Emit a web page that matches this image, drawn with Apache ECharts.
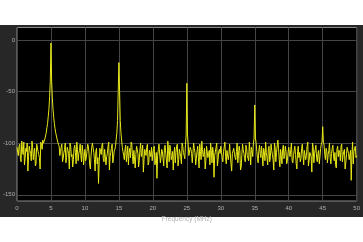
<!DOCTYPE html>
<html><head><meta charset="utf-8">
<script src="https://cdn.jsdelivr.net/npm/echarts@6/dist/echarts.min.js"></script>
<style>html,body{margin:0;padding:0;background:#fff}#c{width:363px;height:242px}</style>
</head><body><div id="c"></div>
<script>
// Frequency grid: 0 to 50 MHz, step 0.2 MHz (power), plus mid points at +0.1 MHz (powerMid)
const freqStart = 0, freqStep = 0.2, midOffset = 0.1;
// Power (dB) at 0.0, 0.2, ... 50.0 MHz
const power = [
-104,-112,-101,-118,-106,-99,-114,-108,-127,-103,-110,-98,-116,-105,-120,-100,-111,-125,-102,-97,-98,-93,-85,-74,-55,
-3,-56,-75,-86,-93,-99,-103,-108,-101,-115,-106,-119,-104,-110,-100,-113,-123,-105,-109,-99,-117,-107,-112,-102,-121,
-106,-114,-101,-110,-125,-104,-99,-116,-108,-120,-139,-105,-111,-100,-118,-107,-113,-103,-126,-109,-101,-115,-106,-96,-78,
-22,-78,-97,-108,-116,-102,-111,-121,-105,-99,-113,-107,-124,-103,-110,-117,-100,-109,-128,-106,-112,-101,-119,-108,-104,
-110,-103,-117,-134,-106,-100,-114,-108,-122,-102,-111,-98,-118,-105,-113,-126,-104,-109,-101,-116,-107,-120,-103,-112,-101,
-42,-101,-112,-106,-119,-100,-109,-115,-103,-124,-108,-98,-113,-105,-117,-102,-110,-121,-107,-104,-133,-111,-100,-116,-106,
-103,-114,-108,-99,-120,-106,-111,-102,-127,-109,-104,-116,-100,-112,-107,-123,-101,-110,-118,-105,-113,-99,-121,-107,-100,
-63,-100,-115,-107,-110,-103,-122,-108,-99,-114,-105,-118,-101,-111,-126,-104,-109,-97,-116,-106,-120,-102,-112,-108,-117,
-104,-113,-100,-119,-107,-111,-125,-103,-109,-115,-101,-121,-106,-112,-99,-117,-108,-128,-104,-110,-102,-118,-107,-113,-101,
-84,-102,-116,-108,-111,-100,-120,-105,-113,-109,-124,-103,-107,-117,-101,-112,-106,-119,-104,-110,-115,-136,-99,-108,-103,
-112
];
// Power (dB) at 0.1, 0.3, ... 49.9 MHz
const powerMid = [
-109,-103,-115,-98,-111,-121,-105,-100,-113,-107,-117,-104,-110,-122,-101,-108,-114,-99,-106,-100,-96,-90,-81,-67,-40,
-40,-67,-81,-90,-96,-101,-112,-104,-118,-109,-100,-114,-107,-125,-103,-111,-116,-102,-120,-106,-110,-101,-118,-108,-113,
-117,-108,-103,-121,-112,-100,-109,-127,-105,-114,-118,-108,-102,-115,-106,-121,-110,-99,-113,-105,-119,-108,-103,-90,-50,
-50,-90,-104,-112,-106,-118,-103,-109,-114,-101,-120,-108,-111,-104,-123,-106,-113,-102,-116,-109,-104,-121,-107,-113,-117,
-105,-121,-109,-112,-101,-119,-106,-115,-104,-110,-124,-107,-102,-116,-108,-111,-119,-103,-122,-106,-113,-100,-109,-115,-92,
-92,-112,-104,-110,-118,-105,-121,-108,-113,-101,-116,-106,-111,-125,-103,-114,-107,-100,-119,-109,-112,-104,-122,-108,-110,
-109,-118,-104,-113,-107,-116,-101,-120,-110,-105,-114,-108,-119,-103,-126,-111,-106,-115,-102,-112,-117,-108,-104,-113,-95,
-95,-108,-119,-102,-114,-111,-105,-117,-109,-121,-103,-113,-107,-116,-100,-118,-110,-105,-123,-112,-106,-115,-103,-120,-109,
-110,-106,-117,-112,-103,-120,-108,-114,-118,-105,-111,-107,-116,-103,-122,-109,-113,-100,-119,-106,-114,-110,-120,-105,-99,
-99,-111,-105,-119,-107,-114,-110,-102,-117,-121,-106,-113,-109,-103,-118,-108,-125,-111,-104,-116,-107,-112,-120,-105,-114
];
const yTicks = [0, -50, -100, -150];
const xTickInterval = 5;
const xName = 'Frequency (MHz)';

const data = [];
power.forEach((p, i) => {
  const f = freqStart + i * freqStep;
  data.push([+f.toFixed(2), p]);
  if (i < powerMid.length) data.push([+(f + midOffset).toFixed(2), powerMid[i]]);
});

const chart = echarts.init(document.getElementById('c'), null, {renderer: 'canvas'});
const font = 'Liberation Sans';
chart.setOption({
  backgroundColor: '#ffffff',
  animation: false,
  graphic: [{
    type: 'rect', z: -10, silent: true,
    shape: {x: 0, y: 25, width: 363, height: 192},
    style: {fill: '#272727'}
  }],
  grid: {
    left: 13, right: 6, top: 27.5, bottom: 41,
    show: true, backgroundColor: '#000000', borderColor: '#8a8a8a', borderWidth: 1
  },
  xAxis: {
    type: 'value', min: 0, max: 50, interval: xTickInterval,
    name: xName, nameLocation: 'middle', nameGap: 13,
    nameTextStyle: {color: '#b0b0b0', fontSize: 6.5, fontFamily: font},
    axisLine: {show: false},
    axisTick: {show: false},
    axisLabel: {color: '#b0b0b0', fontSize: 6, fontFamily: font, margin: 4},
    splitLine: {show: true, lineStyle: {color: '#454545', width: 1}}
  },
  yAxis: {
    type: 'value', min: -156, max: 12,
    axisLine: {show: false},
    axisTick: {show: false},
    axisLabel: {color: '#b0b0b0', fontSize: 6, fontFamily: font, margin: 2, customValues: yTicks},
    splitLine: {show: false}
  },
  series: [{
    type: 'line', data: data, showSymbol: false, symbol: 'none',
    lineStyle: {color: '#e8e817', width: 1},
    z: 5,
    markLine: {
      silent: true, symbol: 'none', label: {show: false},
      lineStyle: {color: '#454545', width: 1, type: 'solid'},
      z: 1,
      data: yTicks.map(v => ({yAxis: v}))
    }
  }]
});
</script></body></html>
